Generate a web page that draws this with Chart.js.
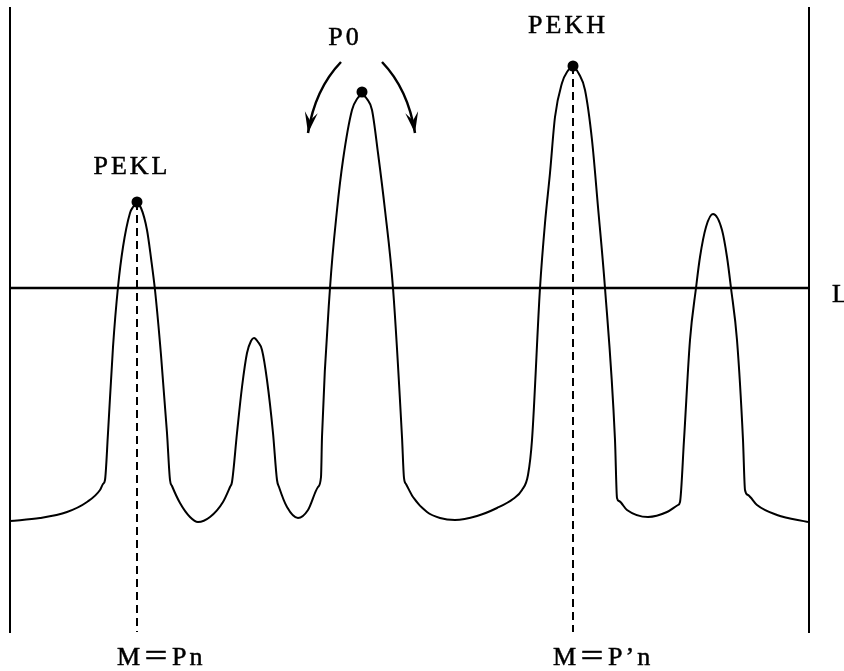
<!DOCTYPE html>
<html>
<head>
<meta charset="utf-8">
<script src="https://cdn.jsdelivr.net/npm/chart.js@4/dist/chart.umd.min.js"></script>
<style>
  html, body { margin: 0; padding: 0; background: #fff; }
  #wrap { width: 844px; height: 671px; position: relative; }
</style>
</head>
<body>
<div id="wrap"><canvas id="myChart"></canvas></div>
<script>
// position along the scan and signal level
const xPos = [0, 30, 57, 77, 90, 93, 95, 98, 103, 108, 113, 120, 123, 127, 131, 137, 141, 145, 151, 157, 160, 162,
  170, 180, 188, 200, 213, 220, 222, 227, 232, 237, 241, 244, 248, 252, 257, 263, 267, 269, 277, 288, 298, 308,
  311, 312, 320, 327, 333, 342, 347, 352, 357, 362, 368, 375, 383, 392, 394, 396, 403, 417, 430, 445, 467,
  487, 503, 512, 518, 522, 530, 535, 540, 545, 552, 557, 563, 569, 575, 582, 588, 595, 605, 607, 609, 617,
  638, 657, 668, 670, 674, 680, 686, 690, 696, 703, 712, 717, 721, 727, 733, 735, 738, 747, 767, 798];
const signal = [111, 114, 120, 130, 142, 148, 152, 199, 285, 345, 385, 419, 425, 428, 424, 402, 374, 342, 277, 199, 152, 146,
  129, 115, 110, 115, 130, 145, 150, 199, 245, 279, 291, 294, 290, 282, 252, 199, 152, 145, 125, 114, 122, 145,
  155, 195, 344, 422, 472, 522, 533, 537, 533, 522, 479, 422, 344, 195, 154, 148, 135, 120, 114, 112, 116,
  124, 133, 142, 157, 192, 344, 409, 459, 515, 549, 560, 565, 558, 542, 492, 425, 344, 192, 134, 131, 122,
  115, 120, 127, 130, 192, 292, 344, 375, 405, 418, 402, 375, 344, 292, 192, 142, 137, 127, 117, 110];

const levelL = 344;               // threshold line L
const peakNames = ['PEKL', 'P0', 'PEKH'];
const peakX = [127, 352, 563];
const peakY = [430, 540, 566];
const footNames = ['M\uFF1DPn', 'M\uFF1DP\u2019n'];
const footIdx = [0, 2];           // which peaks get a dashed drop line

const FONT = '26px "Liberation Serif", "Noto Sans CJK JP", serif';

function toPts(xs, ys) {
  return xs.map((x, i) => ({ x: x, y: ys[i] }));
}

const datasets = [
  {
    data: toPts(xPos, signal),
    borderColor: '#000',
    borderWidth: 2,
    pointRadius: 0,
    cubicInterpolationMode: 'monotone'
  },
  {
    data: [{ x: xPos[0], y: levelL }, { x: xPos[xPos.length - 1], y: levelL }],
    borderColor: '#000',
    borderWidth: 2.5,
    pointRadius: 0
  }
];
footIdx.forEach(i => {
  datasets.push({
    data: [{ x: peakX[i], y: peakY[i] }, { x: peakX[i], y: 0 }],
    borderColor: '#000',
    borderWidth: 2,
    borderDash: [8, 5],
    pointRadius: 0
  });
});
datasets.push({
  data: toPts(peakX, peakY),
  showLine: false,
  pointRadius: 5.5,
  pointBackgroundColor: '#000',
  pointBorderWidth: 0
});

function arrow(ctx, sx, sy, cx, cy, tx, ty) {
  ctx.beginPath();
  ctx.moveTo(sx, sy);
  ctx.quadraticCurveTo(cx, cy, tx, ty);
  ctx.stroke();
  const a = Math.atan2(ty - cy, tx - cx);
  const dx = Math.cos(a), dy = Math.sin(a);
  const L = 21, W = 6.5;
  ctx.beginPath();
  ctx.moveTo(tx, ty);
  ctx.lineTo(tx - L * dx - W * dy, ty - L * dy + W * dx);
  ctx.lineTo(tx - 0.6 * L * dx, ty - 0.6 * L * dy);
  ctx.lineTo(tx - L * dx + W * dy, ty - L * dy - W * dx);
  ctx.closePath();
  ctx.fill();
}

function text(ctx, s, x, y) {
  ctx.fillText(s, x, y);
  ctx.strokeText(s, x, y);
}

const labelsPlugin = {
  id: 'labels',
  afterDraw(chart) {
    const ctx = chart.ctx;
    const xs = chart.scales.x, ys = chart.scales.y;
    const area = chart.chartArea;
    ctx.save();
    ctx.fillStyle = '#000';
    ctx.strokeStyle = '#000';
    ctx.lineWidth = 0.5;
    ctx.font = FONT;
    ctx.letterSpacing = '3px';
    ctx.textBaseline = 'alphabetic';
    ctx.textAlign = 'center';
    // peak names
    const offs = [[-5, -28], [-17, -47], [-5, -33]];
    peakNames.forEach((n, i) => {
      const px = xs.getPixelForValue(peakX[i]);
      const py = ys.getPixelForValue(peakY[i]);
      text(ctx, n, px + offs[i][0], py + offs[i][1]);
    });
    // level label
    ctx.textAlign = 'left';
    text(ctx, 'L', area.right + 23, ys.getPixelForValue(levelL) + 14);
    // foot labels
    footIdx.forEach((pi, k) => {
      const px = xs.getPixelForValue(peakX[pi]);
      text(ctx, footNames[k], px - 20, area.bottom + 33);
    });
    // arrows around P0
    const ax = xs.getPixelForValue(peakX[1]);
    const ay = ys.getPixelForValue(peakY[1]);
    ctx.lineWidth = 2.5;
    arrow(ctx, ax - 21, ay - 30, ax - 47, ay - 3, ax - 54, ay + 41);
    arrow(ctx, ax + 20, ay - 30, ax + 46, ay - 3, ax + 53, ay + 41);
    ctx.restore();
  }
};

var ctx = document.getElementById('myChart').getContext('2d');
var chart = new Chart(ctx, {
  type: 'line',
  data: { datasets: datasets },
  options: {
    responsive: true,
    maintainAspectRatio: false,
    animation: false,
    events: [],
    layout: { padding: { left: 10, right: 35, top: 8, bottom: 39 } },
    plugins: { legend: { display: false }, tooltip: { enabled: false } },
    scales: {
      x: { type: 'linear', min: 0, max: 799, display: false },
      y: {
        type: 'linear', min: 0, max: 624, position: 'left',
        grid: { display: false, drawTicks: false },
        ticks: { display: false },
        border: { display: true, color: '#000', width: 2 }
      },
      y2: {
        type: 'linear', min: 0, max: 624, position: 'right',
        grid: { display: false, drawTicks: false },
        ticks: { display: false },
        border: { display: true, color: '#000', width: 2 }
      }
    }
  },
  plugins: [labelsPlugin]
});
</script>
</body>
</html>
